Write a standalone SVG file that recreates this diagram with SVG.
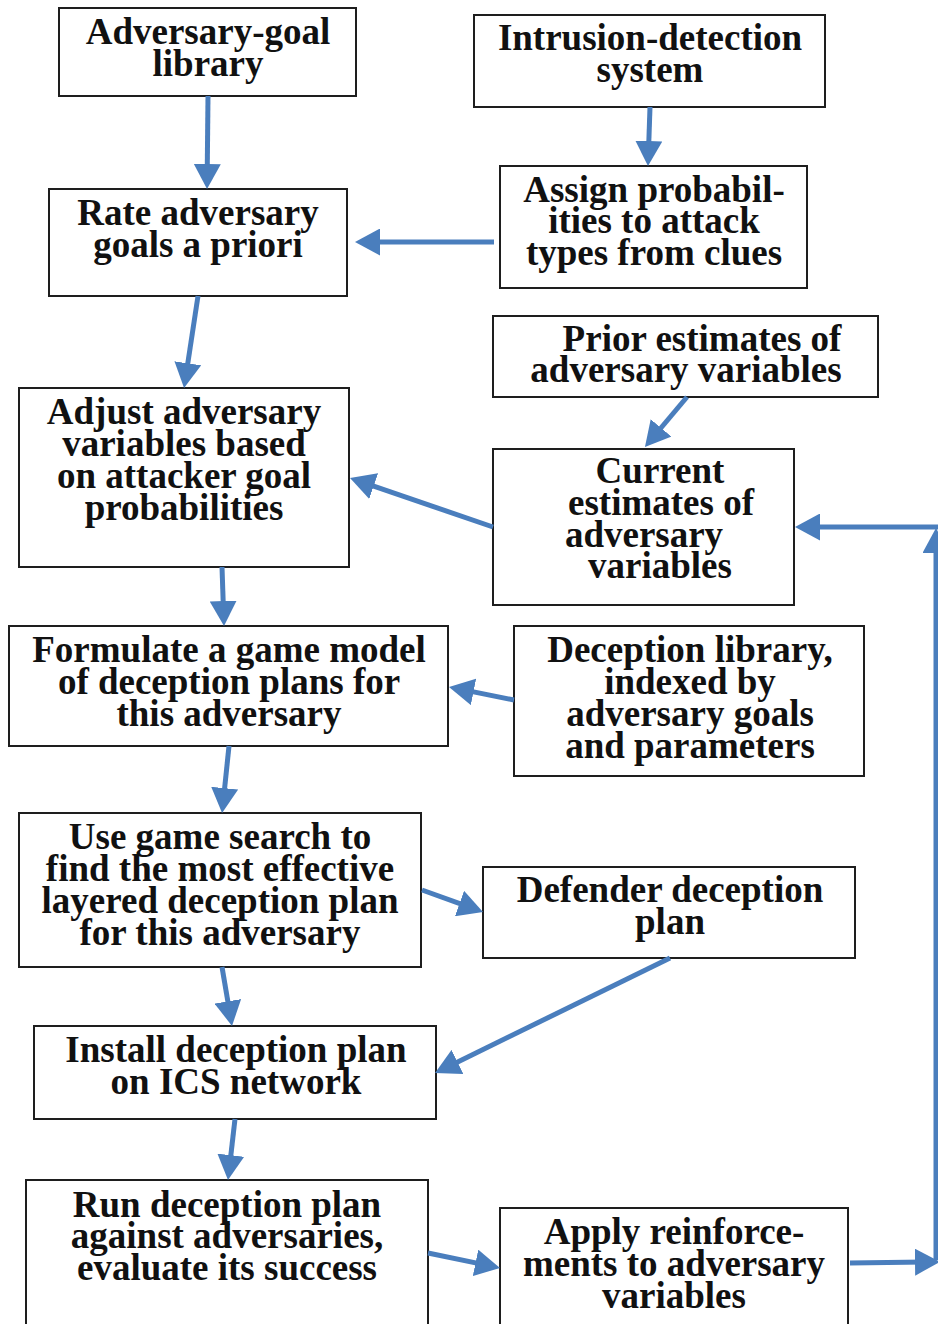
<svg xmlns="http://www.w3.org/2000/svg" width="938" height="1324" viewBox="0 0 938 1324">
  <defs>
    <style>
      .box { fill: #ffffff; stroke: #1e1e1e; stroke-width: 2; }
      .lbl { font-family: "Liberation Serif", "Times New Roman", serif; font-weight: bold; font-size: 37px; fill: #111111; text-anchor: middle; }
      .link { fill: none; stroke: #4a7ebd; stroke-width: 5; marker-end: url(#head); }
    </style>
    <marker id="head" markerUnits="userSpaceOnUse" markerWidth="25" markerHeight="27" refX="10" refY="13.5" orient="auto">
      <path d="M0,0 L25,13.5 L0,27 Z" fill="#4a7ebd"/>
    </marker>
  </defs>
  <rect width="938" height="1324" fill="#ffffff"/>

  <g id="goal-library">
    <rect class="box" x="59" y="8" width="297" height="88"/>
    <text class="lbl" x="208" y="44">Adversary-goal</text>
    <text class="lbl" x="208" y="76">library</text>
  </g>
  <g id="ids">
    <rect class="box" x="474" y="15" width="351" height="92"/>
    <text class="lbl" x="650" y="50">Intrusion-detection</text>
    <text class="lbl" x="650" y="82">system</text>
  </g>
  <g id="rate-goals">
    <rect class="box" x="49" y="189" width="298" height="107"/>
    <text class="lbl" x="198" y="225">Rate adversary</text>
    <text class="lbl" x="198" y="257">goals a priori</text>
  </g>
  <g id="assign-prob">
    <rect class="box" x="500" y="166" width="307" height="122"/>
    <text class="lbl" x="654" y="202">Assign probabil-</text>
    <text class="lbl" x="654" y="233">ities to attack</text>
    <text class="lbl" x="654" y="265">types from clues</text>
  </g>
  <g id="prior-estimates">
    <rect class="box" x="493" y="316" width="385" height="81"/>
    <text class="lbl" x="702" y="351">Prior estimates of</text>
    <text class="lbl" x="686" y="382">adversary variables</text>
  </g>
  <g id="adjust-vars">
    <rect class="box" x="19" y="388" width="330" height="179"/>
    <text class="lbl" x="184" y="424">Adjust adversary</text>
    <text class="lbl" x="184" y="456">variables based</text>
    <text class="lbl" x="184" y="488">on attacker goal</text>
    <text class="lbl" x="184" y="520">probabilities</text>
  </g>
  <g id="current-estimates">
    <rect class="box" x="493" y="449" width="301" height="156"/>
    <text class="lbl" x="660" y="483">Current</text>
    <text class="lbl" x="661" y="515">estimates of</text>
    <text class="lbl" x="644" y="547">adversary</text>
    <text class="lbl" x="660" y="578">variables</text>
  </g>
  <g id="game-model">
    <rect class="box" x="9" y="626" width="439" height="120"/>
    <text class="lbl" x="229" y="662">Formulate a game model</text>
    <text class="lbl" x="229" y="694">of deception plans for</text>
    <text class="lbl" x="229" y="726">this adversary</text>
  </g>
  <g id="deception-library">
    <rect class="box" x="514" y="626" width="350" height="150"/>
    <text class="lbl" x="690" y="662">Deception library,</text>
    <text class="lbl" x="690" y="694">indexed by</text>
    <text class="lbl" x="690" y="726">adversary goals</text>
    <text class="lbl" x="690" y="758">and parameters</text>
  </g>
  <g id="game-search">
    <rect class="box" x="19" y="813" width="402" height="154"/>
    <text class="lbl" x="220" y="849">Use game search to</text>
    <text class="lbl" x="220" y="881">find the most effective</text>
    <text class="lbl" x="220" y="913">layered deception plan</text>
    <text class="lbl" x="220" y="945">for this adversary</text>
  </g>
  <g id="defender-plan">
    <rect class="box" x="483" y="867" width="372" height="91"/>
    <text class="lbl" x="670" y="902">Defender deception</text>
    <text class="lbl" x="670" y="934">plan</text>
  </g>
  <g id="install-plan">
    <rect class="box" x="34" y="1026" width="402" height="93"/>
    <text class="lbl" x="236" y="1062">Install deception plan</text>
    <text class="lbl" x="236" y="1094">on ICS network</text>
  </g>
  <g id="run-plan">
    <rect class="box" x="26" y="1180" width="402" height="160"/>
    <text class="lbl" x="227" y="1217">Run deception plan</text>
    <text class="lbl" x="227" y="1248">against adversaries,</text>
    <text class="lbl" x="227" y="1280">evaluate its success</text>
  </g>
  <g id="reinforce">
    <rect class="box" x="500" y="1208" width="348" height="132"/>
    <text class="lbl" x="674" y="1244">Apply reinforce-</text>
    <text class="lbl" x="674" y="1276">ments to adversary</text>
    <text class="lbl" x="674" y="1308">variables</text>
  </g>

  <g id="connectors">
    <path class="link" d="M208,96 L207.2,174"/>
    <path class="link" d="M650,107 L648.5,151"/>
    <path class="link" d="M494,242 L370,242"/>
    <path class="link" d="M198,296 L186.3,373.2"/>
    <path class="link" d="M687,397 L654.6,435.5"/>
    <path class="link" d="M493,527 L364.2,482.9"/>
    <path class="link" d="M222,567 L223.5,611"/>
    <path class="link" d="M514,700 L463.7,689.9"/>
    <path class="link" d="M229,746 L223.6,798.1"/>
    <path class="link" d="M422,890 L468.9,906.9"/>
    <path class="link" d="M222,967 L229.5,1011.2"/>
    <path class="link" d="M670,958 L448.5,1066.4"/>
    <path class="link" d="M235,1119 L229.7,1165.1"/>
    <path class="link" d="M428,1253 L485.3,1264.9"/>
    <path class="link" d="M850,1263 L925,1262"/>
    <path class="link" d="M936,1260 L936,543"/>
    <path class="link" d="M938,527 L810,527"/>
  </g>
</svg>
